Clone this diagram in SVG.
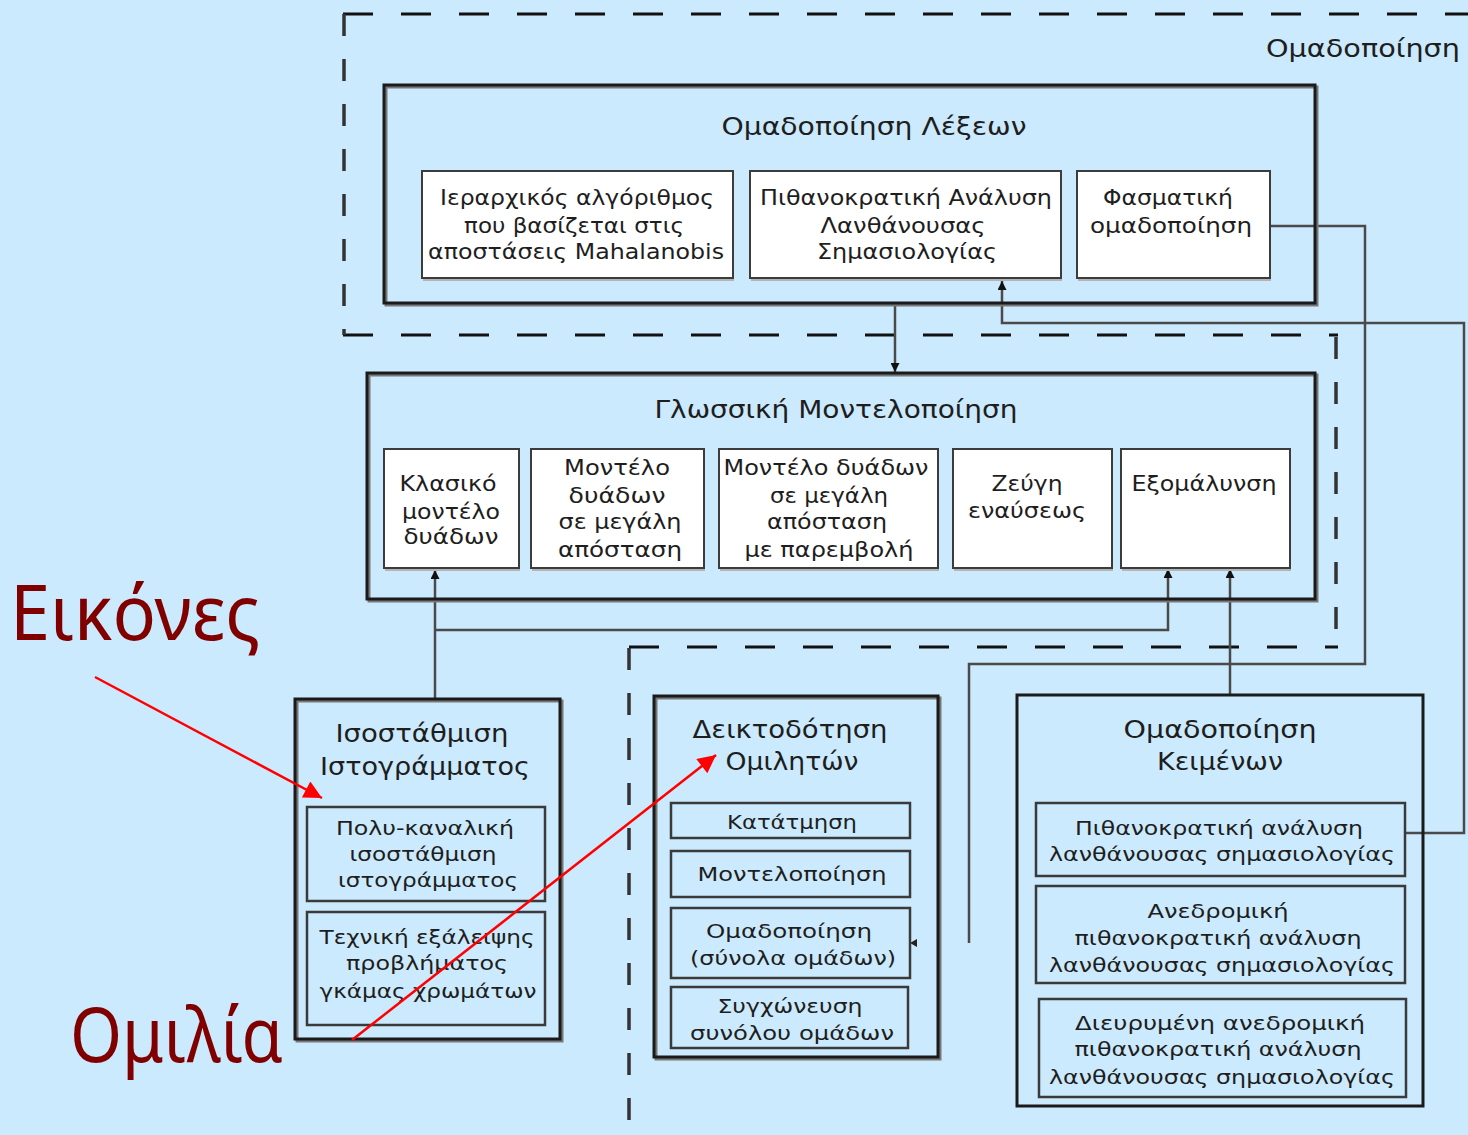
<svg xmlns="http://www.w3.org/2000/svg" width="1468" height="1135" viewBox="0 0 1468 1135">
  <style>
    .t { font-family: "DejaVu Sans", "Liberation Sans", sans-serif; fill: #1e1e1e; text-anchor: middle; }
    .s22 { font-size: 21px; }
    .s20 { font-size: 20px; }
    .s25 { font-size: 25px; }
    .big { font-family: "Noto Sans", "DejaVu Sans", sans-serif; font-size: 76px; fill: #800000; }
    .outer { fill: none; stroke: #1a1a1a; stroke-width: 3; }
    .outer-sh { fill: none; stroke: #777; stroke-width: 3; }
    .white { fill: #ffffff; stroke: #3c3c3c; stroke-width: 2; }
    .white-sh { fill: #b4b4b4; }
    .sub { fill: none; stroke: #3a3a3a; stroke-width: 2.5; }
    .dash-h { stroke: #111; stroke-width: 3; stroke-dasharray: 30 28; fill: none; }
    .dash-v { stroke: #333; stroke-width: 3.5; stroke-dasharray: 22 23; fill: none; }
    .conn { fill: none; stroke: #4a4a4a; stroke-width: 2.5; }
    .red { fill: none; stroke: #ff0000; stroke-width: 2.5; }
  </style>
  <defs>
    <marker id="arr" markerUnits="userSpaceOnUse" viewBox="0 0 10 10" refX="10" refY="5" markerWidth="10" markerHeight="9" orient="auto">
      <path d="M0,0 L10,5 L0,10 z" fill="#111"/>
    </marker>
    <marker id="arr-red" markerUnits="userSpaceOnUse" viewBox="0 0 10 10" refX="10" refY="5" markerWidth="22" markerHeight="18" orient="auto">
      <path d="M0,0 L10,5 L0,10 z" fill="#ff0000"/>
    </marker>
  </defs>

  <rect x="0" y="0" width="1468" height="1135" fill="#cceafd"/>

  <!-- dashed grouping boundary -->
  <g id="cluster-boundary">
    <line class="dash-h" x1="343" y1="14" x2="1468" y2="14"/>
    <line class="dash-h" x1="343" y1="335" x2="1338" y2="335"/>
    <line class="dash-h" x1="629" y1="647" x2="1338" y2="647"/>
    <line class="dash-v" x1="344" y1="14" x2="344" y2="335"/>
    <line class="dash-v" x1="1336" y1="337" x2="1336" y2="647"/>
    <line class="dash-v" x1="629" y1="648" x2="629" y2="1135"/>
    <text class="t s25" x="1363" y="57" textLength="194" lengthAdjust="spacingAndGlyphs">Ομαδοποίηση</text>
  </g>

  <!-- connectors -->
  <g id="connectors">
    <path class="conn" d="M1270,226 H1365 V664 H969 V943"/>
    <path d="M910,943 L917,939 L917,947 z" fill="#222"/>
    <path class="conn" d="M1405,833 H1464 V323 H1002 V281" marker-end="url(#arr)"/>
    <path class="conn" d="M895,303 V372" marker-end="url(#arr)"/>
    <path class="conn" d="M435,698 V570" marker-end="url(#arr)"/>
    <path class="conn" d="M435,630 H1168 V569" marker-end="url(#arr)"/>
    <path class="conn" d="M1230,695 V569" marker-end="url(#arr)"/>
  </g>

  <!-- word clustering -->
  <g id="word-clustering">
    <rect class="outer-sh" x="386" y="87" width="931" height="218"/>
    <rect class="outer" x="384" y="85" width="931" height="218"/>
    <text class="t s25" x="874" y="135" textLength="305" lengthAdjust="spacingAndGlyphs">Ομαδοποίηση Λέξεων</text>
    <g id="hierarchical">
      <rect class="white-sh" x="423" y="174" width="311" height="107"/>
      <rect class="white" x="422" y="171" width="311" height="107"/>
      <text class="t s22" x="577" y="205" textLength="274" lengthAdjust="spacingAndGlyphs">Ιεραρχικός αλγόριθμος</text>
      <text class="t s22" x="574" y="233" textLength="220" lengthAdjust="spacingAndGlyphs">που βασίζεται στις</text>
      <text class="t s22" x="576" y="259" textLength="296" lengthAdjust="spacingAndGlyphs">αποστάσεις Mahalanobis</text>
    </g>
    <g id="plsa-words">
      <rect class="white-sh" x="751" y="174" width="311" height="107"/>
      <rect class="white" x="750" y="171" width="311" height="107"/>
      <text class="t s22" x="906" y="205" textLength="292" lengthAdjust="spacingAndGlyphs">Πιθανοκρατική Ανάλυση</text>
      <text class="t s22" x="903" y="233" textLength="165" lengthAdjust="spacingAndGlyphs">Λανθάνουσας</text>
      <text class="t s22" x="907" y="259" textLength="180" lengthAdjust="spacingAndGlyphs">Σημασιολογίας</text>
    </g>
    <g id="spectral">
      <rect class="white-sh" x="1078" y="174" width="193" height="107"/>
      <rect class="white" x="1077" y="171" width="193" height="107"/>
      <text class="t s22" x="1168" y="205" textLength="130" lengthAdjust="spacingAndGlyphs">Φασματική</text>
      <text class="t s22" x="1171" y="233" textLength="162" lengthAdjust="spacingAndGlyphs">ομαδοποίηση</text>
    </g>
  </g>

  <!-- language modelling -->
  <g id="language-modelling">
    <rect class="outer-sh" x="369" y="375" width="948" height="226"/>
    <rect class="outer" x="367" y="373" width="948" height="226"/>
    <text class="t s25" x="836" y="418" textLength="363" lengthAdjust="spacingAndGlyphs">Γλωσσική Μοντελοποίηση</text>
    <g id="bigram">
      <rect class="white-sh" x="385" y="452" width="135" height="119"/>
      <rect class="white" x="384" y="449" width="135" height="119"/>
      <text class="t s22" x="448" y="491" textLength="97" lengthAdjust="spacingAndGlyphs">Κλασικό</text>
      <text class="t s22" x="451" y="519" textLength="98" lengthAdjust="spacingAndGlyphs">μοντέλο</text>
      <text class="t s22" x="451" y="544" textLength="95" lengthAdjust="spacingAndGlyphs">δυάδων</text>
    </g>
    <g id="distant-bigram">
      <rect class="white-sh" x="532" y="452" width="173" height="119"/>
      <rect class="white" x="531" y="449" width="173" height="119"/>
      <text class="t s22" x="617" y="475" textLength="106" lengthAdjust="spacingAndGlyphs">Μοντέλο</text>
      <text class="t s22" x="617" y="503" textLength="97" lengthAdjust="spacingAndGlyphs">δυάδων</text>
      <text class="t s22" x="620" y="529" textLength="123" lengthAdjust="spacingAndGlyphs">σε μεγάλη</text>
      <text class="t s22" x="620" y="557" textLength="124" lengthAdjust="spacingAndGlyphs">απόσταση</text>
    </g>
    <g id="interpolated-bigram">
      <rect class="white-sh" x="720" y="452" width="219" height="119"/>
      <rect class="white" x="719" y="449" width="219" height="119"/>
      <text class="t s22" x="826" y="475" textLength="205" lengthAdjust="spacingAndGlyphs">Μοντέλο δυάδων</text>
      <text class="t s22" x="829" y="503" textLength="118" lengthAdjust="spacingAndGlyphs">σε μεγάλη</text>
      <text class="t s22" x="827" y="529" textLength="120" lengthAdjust="spacingAndGlyphs">απόσταση</text>
      <text class="t s22" x="829" y="557" textLength="169" lengthAdjust="spacingAndGlyphs">με παρεμβολή</text>
    </g>
    <g id="trigger-pairs">
      <rect class="white-sh" x="954" y="452" width="159" height="119"/>
      <rect class="white" x="953" y="449" width="159" height="119"/>
      <text class="t s22" x="1027" y="491" textLength="71" lengthAdjust="spacingAndGlyphs">Ζεύγη</text>
      <text class="t s22" x="1027" y="518" textLength="118" lengthAdjust="spacingAndGlyphs">εναύσεως</text>
    </g>
    <g id="smoothing">
      <rect class="white-sh" x="1122" y="452" width="169" height="119"/>
      <rect class="white" x="1121" y="449" width="169" height="119"/>
      <text class="t s22" x="1204" y="491" textLength="145" lengthAdjust="spacingAndGlyphs">Εξομάλυνση</text>
    </g>
  </g>

  <!-- histogram equalisation -->
  <g id="histogram-equalisation">
    <rect class="outer-sh" x="297" y="701" width="265" height="340"/>
    <rect class="outer" x="295" y="699" width="265" height="340"/>
    <text class="t s25" x="422" y="742" textLength="173" lengthAdjust="spacingAndGlyphs">Ισοστάθμιση</text>
    <text class="t s25" x="425" y="775" textLength="210" lengthAdjust="spacingAndGlyphs">Ιστογράμματος</text>
    <g id="multichannel">
      <rect class="sub" x="307" y="807" width="238" height="94"/>
      <text class="t s20" x="425" y="835" textLength="178" lengthAdjust="spacingAndGlyphs">Πολυ-καναλική</text>
      <text class="t s20" x="423" y="861" textLength="147" lengthAdjust="spacingAndGlyphs">ισοστάθμιση</text>
      <text class="t s20" x="428" y="887" textLength="180" lengthAdjust="spacingAndGlyphs">ιστογράμματος</text>
    </g>
    <g id="gamut">
      <rect class="sub" x="307" y="912" width="238" height="113"/>
      <text class="t s20" x="427" y="944" textLength="215" lengthAdjust="spacingAndGlyphs">Τεχνική εξάλειψης</text>
      <text class="t s20" x="427" y="970" textLength="162" lengthAdjust="spacingAndGlyphs">προβλήματος</text>
      <text class="t s20" x="428" y="998" textLength="217" lengthAdjust="spacingAndGlyphs">γκάμας χρωμάτων</text>
    </g>
  </g>

  <!-- speaker indexing -->
  <g id="speaker-indexing">
    <rect class="outer-sh" x="656" y="698" width="284" height="361"/>
    <rect class="outer" x="654" y="696" width="284" height="361"/>
    <text class="t s25" x="790" y="738" textLength="195" lengthAdjust="spacingAndGlyphs">Δεικτοδότηση</text>
    <text class="t s25" x="792" y="770" textLength="133" lengthAdjust="spacingAndGlyphs">Ομιλητών</text>
    <g id="segmentation">
      <rect class="sub" x="671" y="803" width="239" height="35"/>
      <text class="t s20" x="792" y="829" textLength="130" lengthAdjust="spacingAndGlyphs">Κατάτμηση</text>
    </g>
    <g id="modelling">
      <rect class="sub" x="671" y="851" width="239" height="46"/>
      <text class="t s20" x="792" y="881" textLength="189" lengthAdjust="spacingAndGlyphs">Μοντελοποίηση</text>
    </g>
    <g id="speaker-clustering">
      <rect class="sub" x="671" y="908" width="239" height="70"/>
      <text class="t s20" x="789" y="938" textLength="166" lengthAdjust="spacingAndGlyphs">Ομαδοποίηση</text>
      <text class="t s20" x="793" y="965" textLength="206" lengthAdjust="spacingAndGlyphs">(σύνολα ομάδων)</text>
    </g>
    <g id="merging">
      <rect class="sub" x="671" y="987" width="237" height="61"/>
      <text class="t s20" x="790" y="1013" textLength="145" lengthAdjust="spacingAndGlyphs">Συγχώνευση</text>
      <text class="t s20" x="792" y="1040" textLength="204" lengthAdjust="spacingAndGlyphs">συνόλου ομάδων</text>
    </g>
  </g>

  <!-- document clustering -->
  <g id="document-clustering">
    <rect class="outer" x="1017" y="695" width="406" height="411"/>
    <text class="t s25" x="1220" y="738" textLength="193" lengthAdjust="spacingAndGlyphs">Ομαδοποίηση</text>
    <text class="t s25" x="1220" y="770" textLength="126" lengthAdjust="spacingAndGlyphs">Κειμένων</text>
    <g id="plsa-docs">
      <rect class="sub" x="1036" y="803" width="369" height="73"/>
      <text class="t s20" x="1219" y="835" textLength="288" lengthAdjust="spacingAndGlyphs">Πιθανοκρατική ανάλυση</text>
      <text class="t s20" x="1222" y="861" textLength="346" lengthAdjust="spacingAndGlyphs">λανθάνουσας σημασιολογίας</text>
    </g>
    <g id="recursive-plsa">
      <rect class="sub" x="1036" y="886" width="369" height="97"/>
      <text class="t s20" x="1218" y="918" textLength="141" lengthAdjust="spacingAndGlyphs">Ανεδρομική</text>
      <text class="t s20" x="1218" y="945" textLength="287" lengthAdjust="spacingAndGlyphs">πιθανοκρατική ανάλυση</text>
      <text class="t s20" x="1222" y="972" textLength="346" lengthAdjust="spacingAndGlyphs">λανθάνουσας σημασιολογίας</text>
    </g>
    <g id="extended-plsa">
      <rect class="sub" x="1039" y="999" width="367" height="98"/>
      <text class="t s20" x="1220" y="1030" textLength="290" lengthAdjust="spacingAndGlyphs">Διευρυμένη ανεδρομική</text>
      <text class="t s20" x="1218" y="1056" textLength="287" lengthAdjust="spacingAndGlyphs">πιθανοκρατική ανάλυση</text>
      <text class="t s20" x="1222" y="1084" textLength="346" lengthAdjust="spacingAndGlyphs">λανθάνουσας σημασιολογίας</text>
    </g>
  </g>

  <!-- red annotations -->
  <g id="annotations">
    <text class="big" x="10" y="640" textLength="250" lengthAdjust="spacingAndGlyphs">Εικόνες</text>
    <text class="big" x="70" y="1062" textLength="213" lengthAdjust="spacingAndGlyphs">Ομιλία</text>
    <line class="red" x1="95" y1="677" x2="322" y2="798" marker-end="url(#arr-red)"/>
    <line class="red" x1="352" y1="1040" x2="716" y2="755" marker-end="url(#arr-red)"/>
  </g>
</svg>
